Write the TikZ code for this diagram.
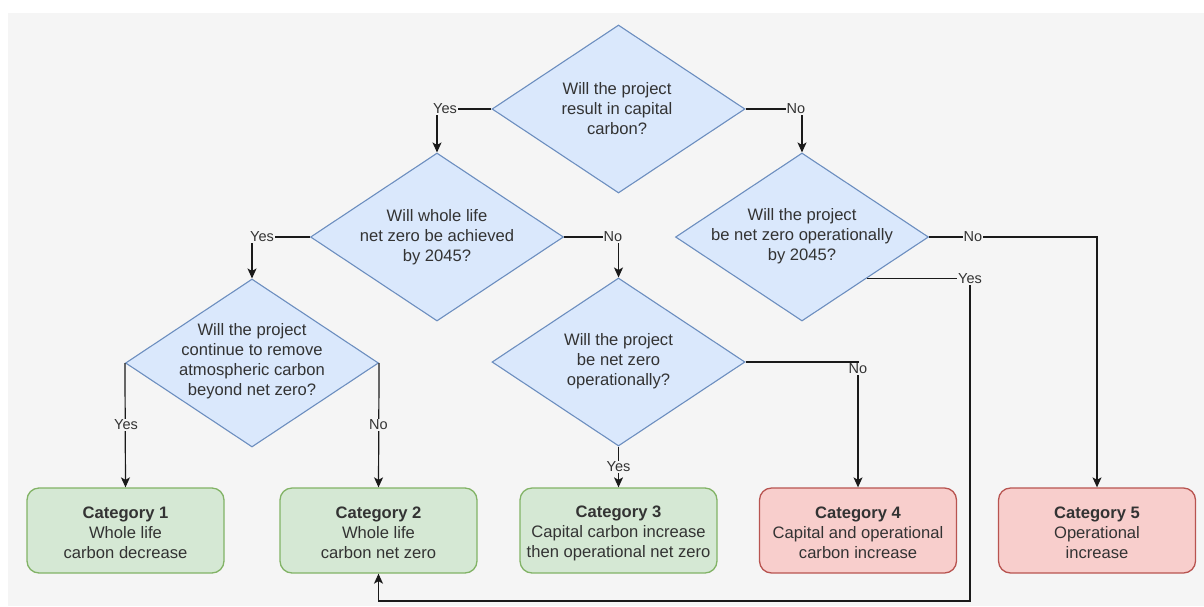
\documentclass[tikz,border=0pt]{standalone}
\usepackage{fontspec}
\setmainfont{Liberation Sans}
\usetikzlibrary{shapes.geometric,arrows.meta,calc}

\definecolor{bgc}{HTML}{F5F5F5}
\definecolor{qfill}{HTML}{DAE8FC}
\definecolor{qline}{HTML}{6C8EBF}
\definecolor{gfill}{HTML}{D5E8D4}
\definecolor{gline}{HTML}{82B366}
\definecolor{rfill}{HTML}{F8CECC}
\definecolor{rline}{HTML}{B85450}
\definecolor{ink}{HTML}{333333}
\definecolor{wire}{HTML}{1A1A1A}

\tikzset{
  question/.style={shape=diamond, draw=qline, fill=qfill, line width=1.1pt,
    minimum width=253pt, minimum height=168pt, inner sep=0pt},
  qtext/.style={text=ink, align=center, inner sep=0pt,
    font=\fontsize{16.6}{20}\selectfont},
  okbox/.style={draw=gline, fill=gfill, line width=1.3pt, rounded corners=12pt,
    minimum width=197pt, minimum height=85pt, inner sep=0pt},
  badbox/.style={draw=rline, fill=rfill, line width=1.3pt, rounded corners=12pt,
    minimum width=197pt, minimum height=85pt, inner sep=0pt},
  ctext/.style={text=ink, align=center, inner sep=0pt,
    font=\fontsize{16.6}{20}\selectfont},
  flow/.style={draw=wire, line width=1.2pt},
  arr/.style={flow, -{Stealth[length=10pt, width=9pt, inset=2.5pt]}},
  lbl/.style={fill=bgc, text=ink, inner sep=0.8pt,
    font=\fontsize{14.5}{17}\selectfont}
}

\begin{document}
\begin{tikzpicture}[x=1pt, y=-1pt]
  \useasboundingbox (0,0) rectangle (1204,606);
  \fill[white] (0,0) rectangle (1204,606);
  \fill[bgc] (8,13) rectangle (1204,606);

  % decision diamonds
  \node[question] (d1) at (618.5,109) {};
  \node[question] (d2) at (437,237) {};
  \node[question] (d3) at (802,237) {};
  \node[question] (d4) at (252,363) {};
  \node[question] (d5) at (618.5,362) {};

  \node[qtext] (t1) at (617,109) {Will the project\\result in capital\\carbon?};
  \node[qtext] (t2) at (437,237) {Will whole life\\net zero be achieved\\by 2045?};
  \node[qtext] (t3) at (802,236) {Will the project\\be net zero operationally\\by 2045?};
  \node[qtext] (t4) at (252,361) {Will the project\\continue to remove\\atmospheric carbon\\beyond net zero?};
  \node[qtext] (t5) at (618.5,361) {Will the project\\be net zero\\operationally?};

  % outcome categories
  \node[okbox]  (c1) at (125.5,530.5) {};
  \node[okbox]  (c2) at (378.5,530.5) {};
  \node[okbox]  (c3) at (618.5,530.5) {};
  \node[badbox] (c4) at (858,530.5) {};
  \node[badbox] (c5) at (1097,530.5) {};

  \node[ctext] (k1) at (125.5,533) {\textbf{Category 1}\\Whole life\\carbon decrease};
  \node[ctext] (k2) at (378.5,533) {\textbf{Category 2}\\Whole life\\carbon net zero};
  \node[ctext] (k3) at (618.5,533) {\textbf{Category 3}\\Capital carbon increase\\then operational net zero};
  \node[ctext] (k4) at (858,533) {\textbf{Category 4}\\Capital and operational\\carbon increase};
  \node[ctext] (k5) at (1097,533) {\textbf{Category 5}\\Operational\\increase};

  % connectors
  \draw[arr] (d1.west) -| (d2.north);
  \draw[arr] (d1.east) -| (d3.north);
  \draw[arr] (d2.west) -| (d4.north);
  \draw[arr] (d2.east) -| (d5.north);
  \draw[arr] (d3.east) -| (c5.north);
  \coordinate (d3yes) at ($(d3.east)!0.488!(d3.south)$);
  \coordinate (loop) at (970,601);
  \draw[arr] (d3yes) -| (loop) -| (c2.south);
  \draw[arr] (d4.west) -- (c1.north);
  \draw[arr] (d4.east) -- (c2.north);
  \draw[arr] (d5.south) -- (c3.north);
  \draw[arr] (d5.east) -| (c4.north);

  % branch labels
  \node[lbl] (l1) at (445,109) {Yes};
  \node[lbl] (l2) at (796,109) {No};
  \node[lbl] (l3) at (262,237) {Yes};
  \node[lbl] (l4) at (613,237) {No};
  \node[lbl] (l5) at (973,237) {No};
  \node[lbl] (l6) at (970,279) {Yes};
  \node[lbl] (l7) at (126,425) {Yes};
  \node[lbl] (l8) at (378.5,425) {No};
  \node[lbl] (l9) at (618.5,467) {Yes};
  \node[lbl] (l10) at (858,369) {No};
\end{tikzpicture}
\end{document}
